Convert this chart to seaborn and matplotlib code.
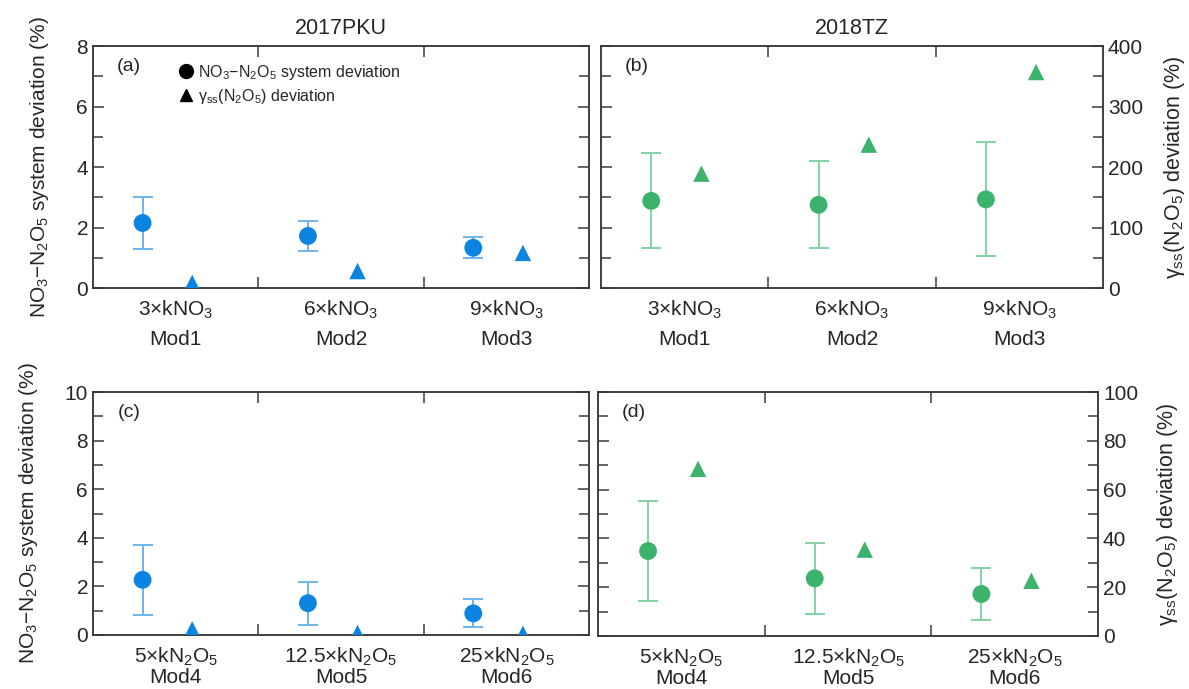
import numpy as np
import matplotlib
matplotlib.use("Agg")
import matplotlib.pyplot as plt
import seaborn as sns
from matplotlib.lines import Line2D
from matplotlib.ticker import MultipleLocator

sns.set_style("ticks")
plt.rcParams['font.family'] = ['Liberation Sans', 'DejaVu Sans']
plt.rcParams['mathtext.fontset'] = 'custom'
plt.rcParams['mathtext.rm'] = 'Liberation Sans'
plt.rcParams['mathtext.it'] = 'Liberation Sans'

# ---- data ----
cats_top = ["3×kNO$_3$", "6×kNO$_3$", "9×kNO$_3$"]
mods_top = ["Mod1", "Mod2", "Mod3"]
cats_bot = ["5×kN$_2$O$_5$", "12.5×kN$_2$O$_5$", "25×kN$_2$O$_5$"]
mods_bot = ["Mod4", "Mod5", "Mod6"]

# NO3-N2O5 system deviation (%) -- left axis
pku_sys = [2.15, 1.72, 1.33]
pku_sys_lo = [1.30, 1.21, 0.99]
pku_sys_hi = [3.00, 2.23, 1.70]
tz_sys = [2.88, 2.75, 2.93]
tz_sys_lo = [1.31, 1.31, 1.05]
tz_sys_hi = [4.47, 4.20, 4.83]

pku_sys2 = [2.27, 1.31, 0.89]
pku_sys2_lo = [0.84, 0.43, 0.32]
pku_sys2_hi = [3.70, 2.20, 1.50]
tz_sys2 = [3.48, 2.36, 1.72]
tz_sys2_lo = [1.43, 0.89, 0.64]
tz_sys2_hi = [5.54, 3.83, 2.80]

# gamma_ss(N2O5) deviation (%) -- right axis
pku_gam = [8.5, 28, 58]
tz_gam = [189, 237, 357]
pku_gam2 = [2.3, 0.8, 0.5]
tz_gam2 = [68.5, 35.4, 22.6]

blue = "#0A84E0"
blue_l = "#6DB5EE"
green = "#3BB36C"
green_l = "#82D3A3"
edge = "#3a3a3a"

fig = plt.figure(figsize=(11.89, 6.89), dpi=100)
pos = {
    'a': [0.0782, 0.582, 0.4172, 0.3512],
    'b': [0.5055, 0.582, 0.4222, 0.3512],
    'c': [0.0782, 0.0784, 0.4172, 0.3526],
    'd': [0.5030, 0.0770, 0.4205, 0.3540],
}
ax_a = fig.add_axes(pos['a'])
ax_b = fig.add_axes(pos['b'], sharey=ax_a)
ax_c = fig.add_axes(pos['c'])
ax_d = fig.add_axes(pos['d'], sharey=ax_c)
tw_a = ax_a.twinx()
tw_b = ax_b.twinx()
tw_c = ax_c.twinx()
tw_d = ax_d.twinx()

rows = [
    (ax_a, tw_a, pku_sys, pku_sys_lo, pku_sys_hi, pku_gam, blue, blue_l, cats_top, mods_top),
    (ax_b, tw_b, tz_sys, tz_sys_lo, tz_sys_hi, tz_gam, green, green_l, cats_top, mods_top),
    (ax_c, tw_c, pku_sys2, pku_sys2_lo, pku_sys2_hi, pku_gam2, blue, blue_l, cats_bot, mods_bot),
    (ax_d, tw_d, tz_sys2, tz_sys2_lo, tz_sys2_hi, tz_gam2, green, green_l, cats_bot, mods_bot),
]

for ax, tw, v, lo, hi, g, col, col_l, cats, mods in rows:
    idx = np.arange(len(v))
    xc = idx + 0.3
    xt = idx + 0.6
    v = np.array(v)
    yerr = [v - np.array(lo), np.array(hi) - v]
    ax.errorbar(xc, v, yerr=yerr, fmt='none', ecolor=col_l, elinewidth=1.4,
                capsize=7.5, capthick=1.4, zorder=2)
    sns.scatterplot(x=xc, y=v, ax=ax, marker='o', s=165, color=col,
                    edgecolor='none', zorder=3, legend=False)
    sns.scatterplot(x=xt, y=g, ax=tw, marker='^', s=140, color=col,
                    edgecolor='none', zorder=3, legend=False)
    ax.set_xlim(0, 3)
    ax.set_xticks([1, 2])
    ax.set_xticklabels([])
    ax.set_xticks(idx + 0.5, minor=True)
    ax.set_xticklabels([c + "\n" + m for c, m in zip(cats, mods)], minor=True)
    ax.tick_params(axis='x', which='major', direction='in', length=8, width=1.1,
                   top=True, bottom=True, color=edge)
    ax.tick_params(axis='x', which='minor', length=0, labelsize=15, pad=8)
    ax.tick_params(axis='y', which='both', direction='in', width=1.1, color=edge,
                   labelsize=15, left=True, right=False)
    ax.tick_params(axis='y', which='major', length=8)
    ax.tick_params(axis='y', which='minor', length=7)
    tw.tick_params(axis='y', which='both', direction='in', width=1.1, color=edge,
                   labelsize=15, right=True)
    tw.tick_params(axis='y', which='major', length=8)
    tw.tick_params(axis='y', which='minor', length=7)
    for a in (ax, tw):
        for s in a.spines.values():
            s.set_color(edge)
            s.set_linewidth(1.1)
    ax.set_xlabel('')
    ax.set_ylabel('')
    tw.set_ylabel('')

for ax in (ax_a, ax_b, ax_c, ax_d):
    for lab in ax.get_xticklabels(minor=True):
        lab.set_linespacing(1.6 if ax in (ax_a, ax_b) else 1.0)

ax_a.set_ylim(0, 8)
ax_a.yaxis.set_major_locator(MultipleLocator(2))
ax_a.yaxis.set_minor_locator(MultipleLocator(1))
tw_a.set_ylim(0, 400)
tw_b.set_ylim(0, 400)
for t in (tw_a, tw_b):
    t.yaxis.set_major_locator(MultipleLocator(100))
    t.yaxis.set_minor_locator(MultipleLocator(50))

ax_c.set_ylim(0, 10)
ax_c.yaxis.set_major_locator(MultipleLocator(2))
ax_c.yaxis.set_minor_locator(MultipleLocator(1))
tw_c.set_ylim(0, 100)
tw_d.set_ylim(0, 100)
for t in (tw_c, tw_d):
    t.yaxis.set_major_locator(MultipleLocator(20))
    t.yaxis.set_minor_locator(MultipleLocator(10))

# left panels: ticks on right side without labels; right panels: labels on the right only
for t in (tw_a, tw_c):
    t.tick_params(axis='y', which='both', labelright=False)
for a in (ax_b, ax_d):
    a.tick_params(axis='y', which='both', labelleft=False)

ylab_l = "NO$_3$$-$N$_2$O$_5$ system deviation (%)"
ylab_r = "γ$_{\\rm ss}$(N$_2$O$_5$) deviation (%)"
ax_a.set_ylabel(ylab_l, fontsize=15, labelpad=18)
ax_c.set_ylabel(ylab_l, fontsize=15, labelpad=18)
tw_b.set_ylabel(ylab_r, fontsize=15.5, rotation=90, labelpad=14)
tw_d.set_ylabel(ylab_r, fontsize=15.5, rotation=90, labelpad=12)

ax_a.set_title("2017PKU", fontsize=15.5, pad=9)
ax_b.set_title("2018TZ", fontsize=15.5, pad=9)

for a, lab in zip((ax_a, ax_b, ax_c, ax_d), ("(a)", "(b)", "(c)", "(d)")):
    a.text(0.072, 0.915, lab, transform=a.transAxes, fontsize=14,
           ha='center', va='center')

handles = [
    Line2D([], [], marker='o', color='black', linestyle='none', markersize=10),
    Line2D([], [], marker='^', color='black', linestyle='none', markersize=9),
]
ax_a.legend(handles, ["NO$_3$$-$N$_2$O$_5$ system deviation", "γ$_{\\rm ss}$(N$_2$O$_5$) deviation"],
            loc='upper left', bbox_to_anchor=(0.14, 0.99), frameon=False,
            fontsize=11.5, handletextpad=0.1, handlelength=1.2, labelspacing=0.3)

plt.savefig("out.png", dpi=100)
